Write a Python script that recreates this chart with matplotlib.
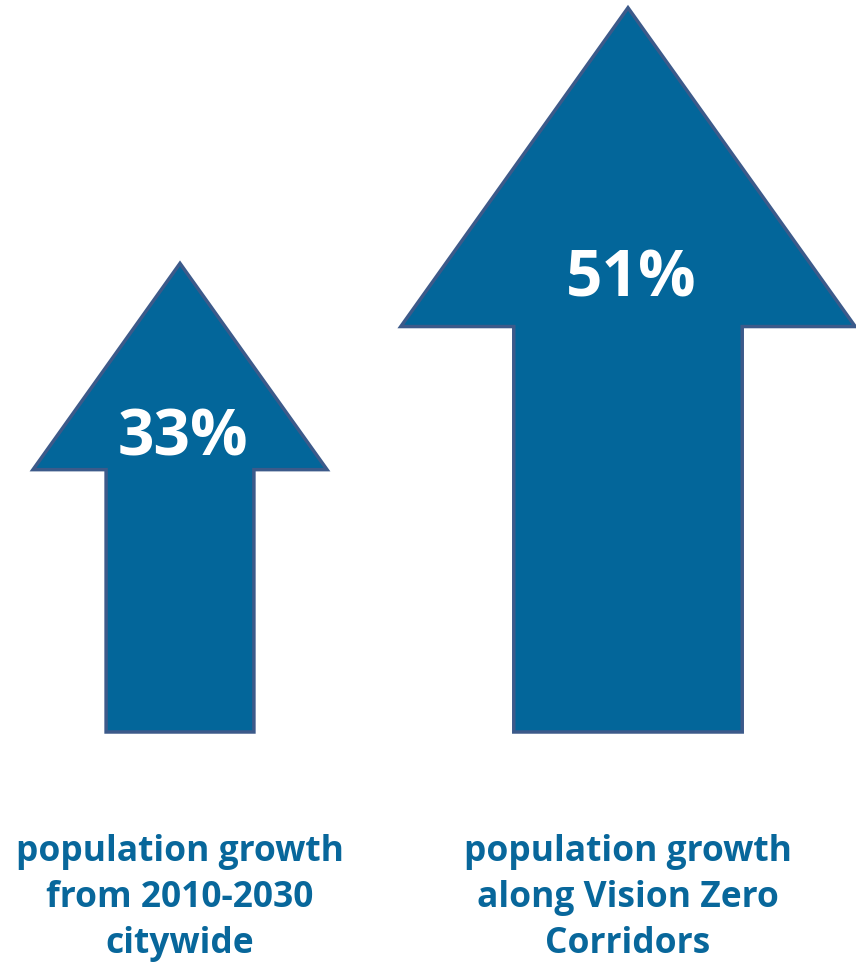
import matplotlib
matplotlib.use("Agg")
import matplotlib.pyplot as plt
from matplotlib.patches import Polygon

# data
values = [33, 51]
value_labels = ["33%", "51%"]
captions = ["population growth\nfrom 2010-2030\ncitywide",
            "population growth\nalong Vision Zero\nCorridors"]

fill_col = "#03669A"
edge_col = "#3C5A8A"
txt_col = "#08679B"

fig = plt.figure(figsize=(8.56, 9.68), dpi=100)
ax = fig.add_axes([0, 0, 1, 1])
ax.set_xlim(0, 856)
ax.set_ylim(968, 0)
ax.axis("off")

centers = [180, 628]
base = 732
k = 14.2  # pixels per percent point

for cx, v, lab, cap in zip(centers, values, value_labels, captions):
    h = v * k
    hw = v * 8.91 / 2     # half head width
    sw = v * 4.48 / 2     # half shaft width
    hl = v * 6.25         # head length
    top = base - h
    neck = top + hl
    pts = [(cx, top), (cx + hw, neck), (cx + sw, neck), (cx + sw, base),
           (cx - sw, base), (cx - sw, neck), (cx - hw, neck)]
    ax.add_patch(Polygon(pts, closed=True, facecolor=fill_col,
                         edgecolor=edge_col, linewidth=2.5, joinstyle="miter"))
    ax.text(cx + 3, neck - 0.92 * v, lab, color="white", fontsize=46,
            fontweight="bold", family="Open Sans", ha="center", va="center")
    ax.text(cx, 898, cap, color=txt_col, fontsize=25.5, fontweight="bold",
            family="Open Sans", ha="center", va="center", linespacing=1.38)

fig.savefig("out.png", dpi=100)
